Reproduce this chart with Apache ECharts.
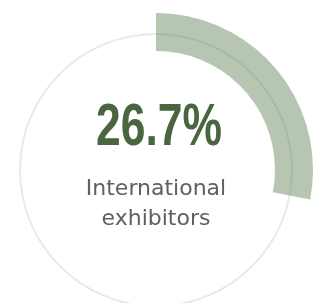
<!DOCTYPE html>
<html>
<head>
<meta charset="utf-8">
<script src="https://cdn.jsdelivr.net/npm/echarts@6/dist/echarts.min.js"></script>
<style>
  html, body { margin: 0; padding: 0; background: #fff; }
  #chart { width: 313px; height: 303px; }
</style>
</head>
<body>
<div id="chart"></div>
<script>
// value printed in the middle
var shareValue = 26.7;
// sweep of the drawn arc (~101 deg of 360)
var arcShare = [28.0, 72.0];
var labelLines = ["International", "exhibitors"];

var chartDom = document.getElementById("chart");
var myChart = echarts.init(chartDom);
var option;
option = {
  animation: false,
  graphic: [
    {
      type: "text",
      x: 159,
      y: 128,
      scaleX: 0.74,
      z: 10,
      style: {
        text: shareValue.toFixed(1) + "%",
        font: 'bold 60px "Liberation Sans"',
        fill: "#4a6640",
        textAlign: "center",
        textVerticalAlign: "middle"
      }
    },
    {
      type: "text",
      x: 156,
      y: 204,
      z: 10,
      style: {
        text: labelLines.join("\n"),
        font: '22px "DejaVu Sans"',
        lineHeight: 30,
        fill: "#606060",
        textAlign: "center",
        textVerticalAlign: "middle"
      }
    }
  ],
  series: [
    {
      // thin outline circle
      type: "pie",
      silent: true,
      center: [156, 170],
      radius: [135, 137],
      label: { show: false },
      itemStyle: { color: "#e9ebe3" },
      data: [1],
      z: 1
    },
    {
      type: "pie",
      silent: true,
      center: [156, 170],
      radius: [119, 157],
      startAngle: 90,
      clockwise: true,
      label: { show: false },
      z: 2,
      data: [
        { value: arcShare[0], itemStyle: { color: "rgba(80,120,75,0.42)" } },
        { value: arcShare[1], itemStyle: { color: "rgba(0,0,0,0)" } }
      ]
    }
  ]
};
option && myChart.setOption(option);
</script>
</body>
</html>
